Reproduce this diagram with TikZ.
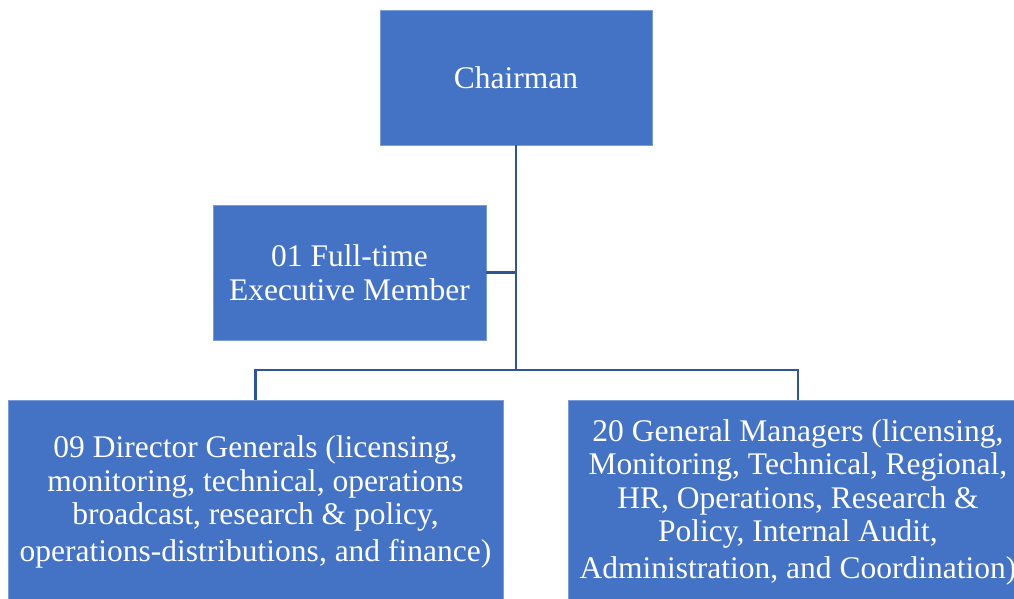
\documentclass[tikz,border=0pt]{standalone}
\usepackage{fontspec}
\setmainfont{Liberation Serif}
\definecolor{boxblue}{HTML}{4472C4}
\definecolor{linkblue}{HTML}{2F5597}
\begin{document}
\begin{tikzpicture}[x=1pt,y=-1pt,
  orgbox/.style={fill=boxblue, draw=boxblue!70!white, line width=0.8pt,
    text=white, align=center, inner sep=0pt,
    font=\fontsize{31.5}{33.5}\selectfont},
  link/.style={draw=linkblue, line width=2.6pt}]
\useasboundingbox (0,0) rectangle (1014,599);

% boxes of the chart
\node[orgbox, minimum width=272pt, minimum height=135pt] (chair) at (516,77.5) {Chairman};
\node[orgbox, minimum width=273pt, minimum height=135pt] (ftm) at (349.5,272.5)
  {01 Full-time\\Executive Member};
\node[orgbox, minimum width=495pt, minimum height=204pt] (dg) at (255.5,502)
  {09 Director Generals (licensing,\\monitoring, technical, operations\\
   broadcast, research \& policy,\\[3pt]operations-distributions, and finance)};
\node[orgbox, minimum width=460pt, minimum height=204pt] (gm) at (798,502)
  {20 General Managers (licensing,\\Monitoring, Technical, Regional,\\
   HR, Operations, Research \&\\Policy, Internal Audit,\\[3pt]
   Administration, and Coordination)};

% reporting lines
\coordinate (bus) at (516,370);
\draw[link] (chair.south) -- (bus);
\draw[link] (ftm.east) -- (ftm.east -| chair.south);
\draw[link] (dg.north) |- (bus) -| (gm.north);
\end{tikzpicture}
\end{document}
